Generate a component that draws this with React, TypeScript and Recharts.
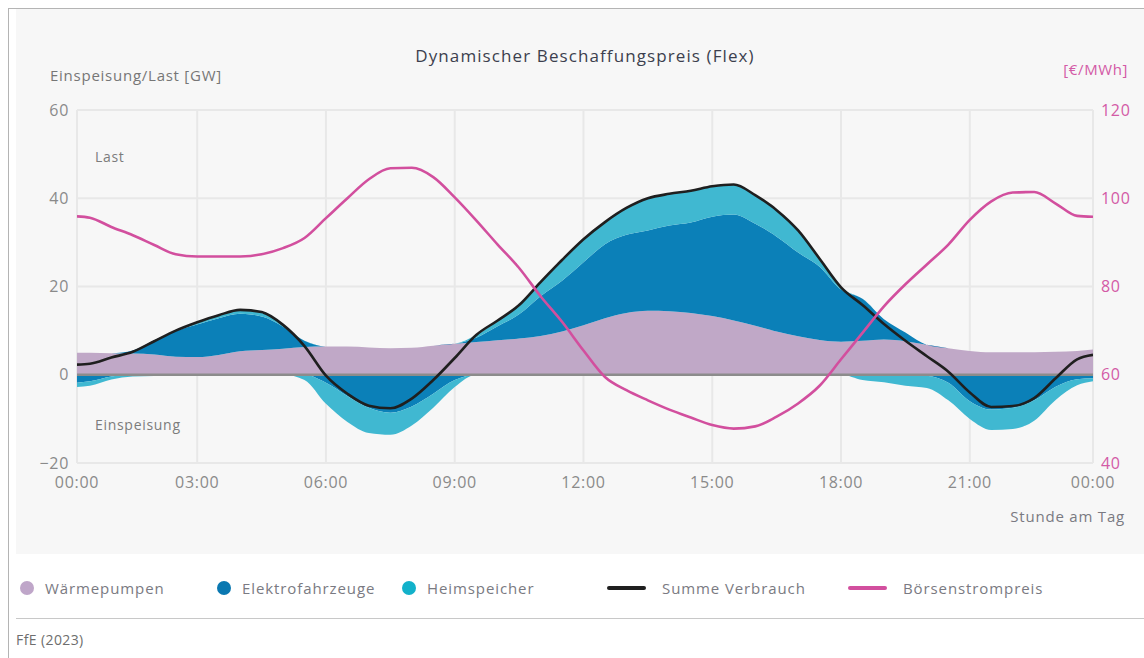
import React from 'react';
import { ComposedChart, Area, Line, XAxis, YAxis, CartesianGrid, ReferenceLine, Legend } from 'recharts';

const FONT = '"Open Sans", "Noto Sans", sans-serif';

// hour of day (data runs from just after 00:00 to just before 24:00)
const HOURS = [0.2, 0.5, 1, 1.5, 2, 2.5, 3, 3.5, 4, 4.5, 5, 5.5, 6, 6.5, 7, 7.5, 8, 8.5, 9, 9.5, 10, 10.5, 11, 11.5, 12, 12.5, 13, 13.5, 14, 14.5, 15, 15.5, 16, 16.5, 17, 17.5, 18, 18.5, 19, 19.5, 20, 20.5, 21, 21.5, 22, 22.5, 23, 23.5, 23.87];

// GW
const WAERMEPUMPEN = [5.0, 5.0, 4.9, 4.8, 4.6, 4.1, 4.0, 4.5, 5.3, 5.6, 5.9, 6.3, 6.4, 6.4, 6.2, 6.0, 6.1, 6.6, 7.0, 7.4, 7.8, 8.2, 8.8, 9.8, 11.2, 12.8, 14.0, 14.5, 14.4, 14.0, 13.3, 12.3, 11.1, 9.8, 8.7, 7.9, 7.5, 7.7, 8.0, 7.6, 6.8, 6.0, 5.4, 5.1, 5.1, 5.1, 5.2, 5.4, 5.7];
const ELEKTROFAHRZEUGE = [-1.8, -1.5, -0.4, 0.7, 3.2, 5.8, 7.4, 8.3, 8.5, 7.6, 5.0, 1.4, -1.8, -4.8, -7.5, -8.6, -7.2, -4.3, -1.2, 1.0, 3.2, 5.5, 9.0, 11.5, 14.3, 16.8, 17.7, 18.2, 19.4, 20.5, 22.5, 24.0, 23.1, 21.5, 19.0, 16.6, 11.8, 9.5, 4.6, 2.0, -0.2, -1.8, -6.0, -7.9, -7.5, -5.8, -2.7, -1.0, -0.8];
const HEIMSPEICHER = [-1.0, -1.0, -0.7, -0.4, -0.3, 0.1, 0.5, 0.7, 0.9, 1.0, 0.4, -1.2, -4.8, -5.9, -5.7, -5.0, -4.3, -3.2, -1.6, 0.6, 1.2, 2.0, 3.2, 4.7, 5.2, 5.0, 6.1, 7.3, 7.2, 7.2, 6.9, 6.8, 6.5, 6.0, 5.0, 1.8, 0.5, -1.2, -1.7, -2.5, -2.8, -4.0, -4.0, -4.6, -4.8, -4.6, -3.0, -1.4, -0.7];
const SUMME = [2.3, 2.5, 3.9, 5.2, 7.6, 10.0, 11.9, 13.5, 14.7, 14.2, 11.3, 6.5, -0.2, -4.3, -7.0, -7.6, -5.4, -1.2, 3.8, 9.0, 12.3, 15.8, 21.0, 26.0, 30.7, 34.6, 37.8, 40.0, 41.0, 41.7, 42.7, 43.1, 40.7, 37.3, 32.7, 26.3, 19.8, 15.8, 11.5, 7.7, 4.2, 0.7, -4.0, -7.3, -7.1, -5.3, -0.8, 3.5, 4.5];
// €/MWh
const PREIS = [95.9, 95.6, 93.5, 91.6, 89.4, 87.3, 86.8, 86.8, 86.8, 87.3, 88.7, 91.0, 95.5, 100.0, 104.3, 106.8, 106.9, 104.8, 100.2, 95.0, 89.5, 84.2, 77.8, 72.0, 65.5, 59.5, 56.5, 54.2, 52.1, 50.3, 48.6, 47.8, 48.3, 50.5, 53.5, 57.5, 63.5, 69.5, 75.5, 80.5, 85.0, 89.5, 95.1, 99.3, 101.3, 101.4, 98.8, 96.0, 95.8];

const X_TICKS = [0.2, 3, 6, 9, 12, 15, 18, 21, 23.87];
const X_LABELS = ['00:00', '03:00', '06:00', '09:00', '12:00', '15:00', '18:00', '21:00', '00:00'];
const GW_TICKS = [-20, 0, 20, 40, 60];
const EUR_TICKS = [40, 60, 80, 100, 120];

const C_WP = '#c0a8c7';
const C_EV = '#0b80b8';
const C_HS = '#40b8d1';
const C_SUM = '#1f1f1f';
const C_PRICE = '#d24f9e';

const LEGEND = [
  { name: 'Wärmepumpen', color: '#bfa6c9', kind: 'dot', x: 11 },
  { name: 'Elektrofahrzeuge', color: '#0a78b1', kind: 'dot', x: 208 },
  { name: 'Heimspeicher', color: '#12b1ca', kind: 'dot', x: 393 },
  { name: 'Summe Verbrauch', color: C_SUM, kind: 'line', x: 591 },
  { name: 'Börsenstrompreis', color: C_PRICE, kind: 'line', x: 832 },
];

const table = HOURS.map((h, i) => {
  const wp = WAERMEPUMPEN[i];
  const ev = ELEKTROFAHRZEUGE[i];
  const hs = HEIMSPEICHER[i];
  const evP = Math.max(ev, 0);
  const evN = Math.min(ev, 0);
  const hsP = Math.max(hs, 0);
  const hsN = Math.min(hs, 0);
  return {
    h,
    wp: [0, wp],
    evPos: [wp, wp + evP],
    evNeg: [evN, 0],
    hsPos: [wp + evP, wp + evP + hsP],
    hsNeg: [evN + hsN, evN],
    sum: SUMME[i],
    price: PREIS[i],
  };
});

const xLabel = (v: number) => X_LABELS[X_TICKS.indexOf(v)] ?? '';
const gwLabel = (v: number) => (v < 0 ? '\u2212' + Math.abs(v) : String(v));

const renderLegend = () => (
  <div style={{ position: 'relative', width: 1128, height: 26, fontFamily: FONT }}>
    {LEGEND.map((it) => (
      <div key={it.name} style={{ position: 'absolute', left: it.kind === 'dot' ? it.x - 7 : it.x, top: 0, height: 26, display: 'flex', alignItems: 'center' }}>
        {it.kind === 'dot' ? (
          <span style={{ display: 'inline-block', width: 14, height: 14, borderRadius: 7, background: it.color }} />
        ) : (
          <span style={{ display: 'inline-block', width: 39, height: 4, borderRadius: 2, background: it.color }} />
        )}
        <span style={{ marginLeft: it.kind === 'dot' ? 11 : 16, fontSize: 15, letterSpacing: 0.9, color: '#7a7a82', whiteSpace: 'nowrap' }}>{it.name}</span>
      </div>
    ))}
  </div>
);

export default function App() {
  const tickStyle = { fontSize: 16, fill: '#8a8a8a', fontFamily: FONT, letterSpacing: 0.7 };
  return (
    <div style={{ position: 'fixed', left: 8, top: 8, right: 0, bottom: 0, borderLeft: '1px solid #b4b4b4', borderTop: '1px solid #b4b4b4', fontFamily: FONT, background: '#fff', overflow: 'hidden' }}>
      <style>{'html { overflow: hidden; }'}</style>
      <div style={{ position: 'absolute', left: 7, top: 0, right: 0, height: 545, background: '#f7f7f7' }} />
      <div style={{ position: 'absolute', left: 7, top: 0 }}>
        <ComposedChart width={1128} height={600} data={table} margin={{ top: 101, right: 0, bottom: 116, left: 0 }}>
          <CartesianGrid stroke="#e8e8e8" strokeWidth={2} yAxisId="gw" />
          <XAxis dataKey="h" type="number" domain={[0.2, 23.87]} ticks={X_TICKS} tickFormatter={xLabel} axisLine={false} tickLine={false} tick={tickStyle} tickMargin={8} height={30} interval={0} allowDataOverflow />
          <YAxis yAxisId="gw" domain={[-20, 60]} ticks={GW_TICKS} tickFormatter={gwLabel} axisLine={false} tickLine={false} tick={tickStyle} width={61} interval={0} />
          <YAxis yAxisId="eur" orientation="right" domain={[40, 120]} ticks={EUR_TICKS} axisLine={false} tickLine={false} tick={{ ...tickStyle, fill: '#d35aa6' }} width={51} interval={0} />
          <Area yAxisId="gw" dataKey="wp" name="Wärmepumpen" type="monotone" stroke="none" fill={C_WP} fillOpacity={1} isAnimationActive={false} />
          <Area yAxisId="gw" dataKey="evPos" name="Elektrofahrzeuge" type="monotone" stroke="none" fill={C_EV} fillOpacity={1} isAnimationActive={false} />
          <Area yAxisId="gw" dataKey="evNeg" legendType="none" type="monotone" stroke="none" fill={C_EV} fillOpacity={1} isAnimationActive={false} />
          <Area yAxisId="gw" dataKey="hsPos" name="Heimspeicher" type="monotone" stroke="none" fill={C_HS} fillOpacity={1} isAnimationActive={false} />
          <Area yAxisId="gw" dataKey="hsNeg" legendType="none" type="monotone" stroke="none" fill={C_HS} fillOpacity={1} isAnimationActive={false} />
          <ReferenceLine yAxisId="gw" y={0} stroke="#8c8c8c" strokeWidth={2.5} />
          <Line yAxisId="gw" dataKey="sum" name="Summe Verbrauch" type="monotone" stroke={C_SUM} strokeWidth={2.6} dot={false} isAnimationActive={false} />
          <Line yAxisId="eur" dataKey="price" name="Börsenstrompreis" type="monotone" stroke={C_PRICE} strokeWidth={2.6} dot={false} isAnimationActive={false} />
          <Legend layout="horizontal" verticalAlign="middle" align="center" content={renderLegend} wrapperStyle={{ position: 'absolute', top: 566, left: 0, width: 1128, height: 26 }} />
        </ComposedChart>
      </div>
      <div style={{ position: 'absolute', left: 326, top: 37, width: 500, textAlign: 'center', fontSize: 17, letterSpacing: 1.1, lineHeight: '20px', color: '#3c3f4e' }}>Dynamischer Beschaffungspreis (Flex)</div>
      <div style={{ position: 'absolute', left: 41, top: 56, fontSize: 15, letterSpacing: 0.75, lineHeight: '20px', color: '#767676' }}>Einspeisung/Last [GW]</div>
      <div style={{ position: 'absolute', left: 1054, width: 65, textAlign: 'right', top: 50, fontSize: 15, letterSpacing: 0.6, lineHeight: '20px', color: '#d35aa6' }}>[€/MWh]</div>
      <div style={{ position: 'absolute', left: 86, top: 138, fontSize: 14, letterSpacing: 0.7, lineHeight: '20px', color: '#7c7c7c' }}>Last</div>
      <div style={{ position: 'absolute', left: 86, top: 406, fontSize: 14, letterSpacing: 0.7, lineHeight: '20px', color: '#7c7c7c' }}>Einspeisung</div>
      <div style={{ position: 'absolute', left: 966, width: 150, textAlign: 'right', top: 497, fontSize: 15, letterSpacing: 0.8, lineHeight: '20px', color: '#7a7a82' }}>Stunde am Tag</div>
      <div style={{ position: 'absolute', left: 7, top: 609, right: 0, height: 1, background: '#c8c8c8' }} />
      <div style={{ position: 'absolute', left: 7, top: 621, fontSize: 14, letterSpacing: 0.4, lineHeight: '20px', color: '#6e6e6e' }}>FfE (2023)</div>
    </div>
  );
}
